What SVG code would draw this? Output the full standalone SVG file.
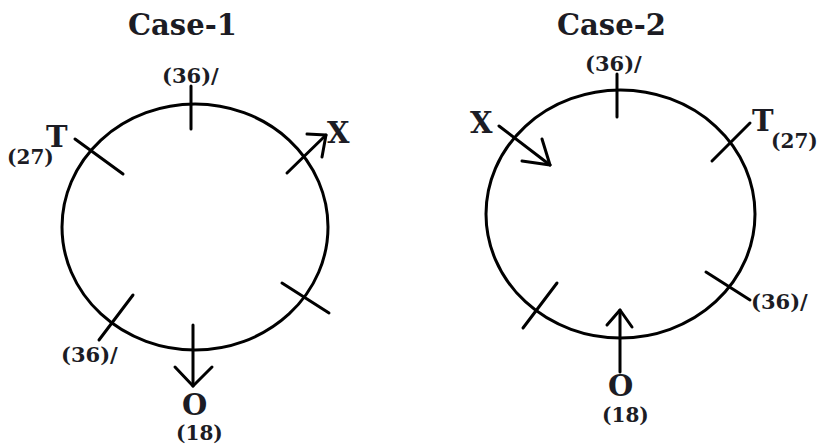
<svg xmlns="http://www.w3.org/2000/svg" width="817" height="445" viewBox="0 0 817 445">
<style>
.c{fill:none;stroke:#000;stroke-width:3}
.l{stroke:#000;stroke-width:3;fill:none;stroke-linecap:round;stroke-linejoin:round}
text{font-family:"DejaVu Serif","Liberation Serif",serif;font-weight:bold;fill:#1c1c24}
.t{font-size:29px}
.b{font-size:29px}
.n{font-size:20px}
.m{font-size:21px}
</style>
<rect width="817" height="445" fill="#fff"/>
<g id="case1">
<text class="t" x="128" y="35">Case-1</text>
<ellipse class="c" cx="195" cy="227" rx="133" ry="123"/>
<g id="c1-top"><line class="l" x1="191" y1="86" x2="191" y2="129"/><text class="m" x="162" y="83">(36)/</text></g>
<g id="c1-T"><line class="l" x1="75" y1="139" x2="123" y2="174"/><text class="b" x="46" y="147">T</text><text class="n" x="7" y="164">(27)</text></g>
<g id="c1-X"><line class="l" x1="287" y1="173" x2="326" y2="135"/><polyline class="l" points="307,134 326,135 322,157"/><text class="b" x="327" y="143">X</text></g>
<g id="c1-lr"><line class="l" x1="282" y1="283" x2="329" y2="313"/></g>
<g id="c1-ll"><line class="l" x1="133" y1="295" x2="99" y2="340"/><text class="m" x="61" y="362">(36)/</text></g>
<g id="c1-O"><line class="l" x1="193" y1="325" x2="193" y2="386"/><polyline class="l" points="175,367 193,386 212,367"/><text class="b" x="182" y="415">O</text><text class="n" x="176" y="440">(18)</text></g>
</g>
<g id="case2">
<text class="t" x="557" y="35">Case-2</text>
<ellipse class="c" cx="620.5" cy="214" rx="134.5" ry="124"/>
<g id="c2-top"><line class="l" x1="617" y1="74" x2="617" y2="117"/><text class="m" x="585" y="71">(36)/</text></g>
<g id="c2-X"><line class="l" x1="499" y1="126" x2="550" y2="165"/><polyline class="l" points="542,139 550,165 522,161"/><text class="b" x="470" y="133">X</text></g>
<g id="c2-T"><line class="l" x1="750" y1="123" x2="712" y2="161"/><text class="b" x="752" y="131">T</text><text class="n" x="771" y="148">(27)</text></g>
<g id="c2-lr"><line class="l" x1="706" y1="272" x2="750" y2="300"/><text class="m" x="751" y="309">(36)/</text></g>
<g id="c2-ll"><line class="l" x1="557" y1="283" x2="523" y2="328"/></g>
<g id="c2-O"><line class="l" x1="620" y1="372" x2="620" y2="310"/><polyline class="l" points="607,325 620,310 632,327"/><text class="b" x="608" y="396">O</text><text class="n" x="602" y="422">(18)</text></g>
</g>
</svg>
